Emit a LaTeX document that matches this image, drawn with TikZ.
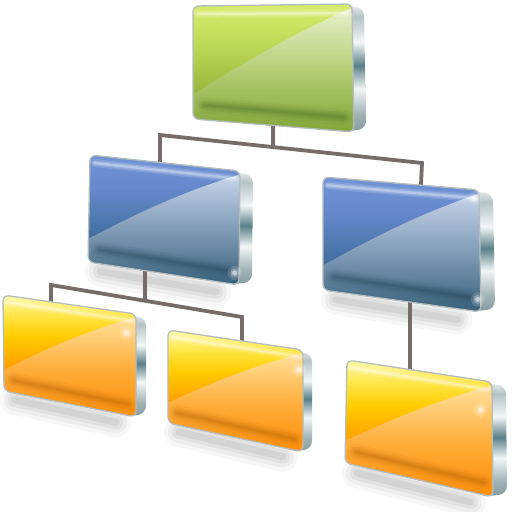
\documentclass[tikz,border=0pt]{standalone}
\usetikzlibrary{calc}
\definecolor{gA}{HTML}{D8EC6E}
\definecolor{gB}{HTML}{C8E05E}
\definecolor{gC}{HTML}{B0CC4C}
\definecolor{gE}{HTML}{8CB03A}
\definecolor{gF}{HTML}{76992C}
\definecolor{greenLT}{HTML}{EEF3D2}
\definecolor{greenLM}{HTML}{B2CC72}
\definecolor{greenLB}{HTML}{7A9E30}
\definecolor{greenD}{HTML}{45661A}
\definecolor{bA}{HTML}{7094D6}
\definecolor{bB}{HTML}{6688CC}
\definecolor{bC}{HTML}{4E78AE}
\definecolor{bE}{HTML}{35628A}
\definecolor{bF}{HTML}{2A5068}
\definecolor{blueLT}{HTML}{CCD8EC}
\definecolor{blueLM}{HTML}{7C98B4}
\definecolor{blueLB}{HTML}{2C566E}
\definecolor{blueD}{HTML}{1A3C50}
\definecolor{oA}{HTML}{FFFCA8}
\definecolor{oB}{HTML}{FFE440}
\definecolor{oC}{HTML}{FFCC00}
\definecolor{oE}{HTML}{FFA000}
\definecolor{oF}{HTML}{FF8A00}
\definecolor{orangeLT}{HTML}{FFE4A0}
\definecolor{orangeLM}{HTML}{FFAC38}
\definecolor{orangeLB}{HTML}{FF8800}
\definecolor{orangeD}{HTML}{A85A00}
\definecolor{mTop}{HTML}{E8EEEE}
\definecolor{mGrey2}{HTML}{B5C3C5}
\definecolor{mLight}{HTML}{F2F6F6}
\definecolor{mDark}{HTML}{5A8088}
\definecolor{mGrey}{HTML}{A3B4B6}
\definecolor{mBot}{HTML}{8399A0}
\definecolor{faceborder}{HTML}{B4BCBC}
\definecolor{linkcol}{HTML}{766D6B}
\pgfdeclareverticalshading{metal}{100bp}{color(0bp)=(mBot); color(25bp)=(mBot); color(32bp)=(mGrey); color(42bp)=(mLight); color(51bp)=(mDark); color(60bp)=(mLight); color(70bp)=(mGrey2); color(75bp)=(mTop); color(100bp)=(mTop)}
\pgfdeclareverticalshading{facegreen}{100bp}{color(0bp)=(gF); color(25bp)=(gF); color(36bp)=(gE); color(52bp)=(gC); color(64bp)=(gB); color(75bp)=(gA); color(100bp)=(gA)}
\pgfdeclareverticalshading{faceblue}{100bp}{color(0bp)=(bF); color(25bp)=(bF); color(36bp)=(bE); color(50bp)=(bC); color(62bp)=(bB); color(75bp)=(bA); color(100bp)=(bA)}
\pgfdeclareverticalshading{faceorange}{100bp}{color(0bp)=(oF); color(25bp)=(oF); color(36bp)=(oF); color(46bp)=(oE); color(58bp)=(oC); color(66bp)=(oB); color(75bp)=(oA); color(100bp)=(oA)}
\tikzset{
  link/.style={draw=linkcol, line width=3.8pt},
  fborder/.style={draw=faceborder, line width=1.3pt, rounded corners=6pt}
}
\newcommand{\defbox}[5]{\coordinate (#1-tl) at #2; \coordinate (#1-tr) at #3; \coordinate (#1-br) at #4; \coordinate (#1-bl) at #5;}
\newcommand{\uvpt}[4]{\coordinate (tmpa) at ($(#2-tl)!#3!(#2-tr)$); \coordinate (tmpb) at ($(#2-bl)!#3!(#2-br)$); \coordinate (#1) at ($(tmpa)!#4!(tmpb)$);}
\newcommand{\boxshadow}[1]{%
  \uvpt{#1-s1}{#1}{0.08}{1.07}
  \uvpt{#1-s2}{#1}{0.85}{1.09}
  \foreach \w/\o in {30/0.03,22/0.04,14/0.05,7/0.06}{\draw[line width=\w pt, black, opacity=\o, line cap=round] (#1-s1) -- (#1-s2);}
}
\newcommand{\drawbox}[3]{%
  \shade[shading=metal, rounded corners=8pt] ($(#1-tr)+(-14,0)$) -- ($(#1-tr)+(#2,4)$) -- ($(#1-br)+(#2,-3)$) -- ($(#1-br)+(-14,0)$) -- cycle;
  \shade[shading=face#3, rounded corners=6pt] (#1-tl) -- (#1-tr) -- (#1-br) -- (#1-bl) -- cycle;
  \begin{scope}
    \clip[rounded corners=6pt] (#1-tl) -- (#1-tr) -- (#1-br) -- (#1-bl) -- cycle;
    \uvpt{#1-c0}{#1}{-0.02}{0.80}
    \uvpt{#1-c1}{#1}{0.22}{0.58}
    \uvpt{#1-c2}{#1}{0.55}{0.28}
    \uvpt{#1-c3}{#1}{1.0}{0.03}
    \shade[top color=#3LT, bottom color=#3LB, middle color=#3LM] (#1-c0) .. controls (#1-c1) and (#1-c2) .. (#1-c3) -- ($(#1-tr)+(10,0)$) -- ($(#1-br)+(10,10)$) -- ($(#1-bl)+(-10,10)$) -- cycle;
    \uvpt{#1-h1}{#1}{0.03}{0.07}
    \uvpt{#1-h2}{#1}{0.97}{0.07}
    \foreach \w/\o in {8/0.12,5/0.18,2.5/0.3}{\draw[white, line width=\w pt, opacity=\o, line cap=round] (#1-h1) -- (#1-h2);}
    \uvpt{#1-d1}{#1}{0.07}{0.87}
    \uvpt{#1-d2}{#1}{0.94}{0.89}
    \foreach \w/\o in {16/0.07,11/0.1,7/0.14,3/0.18}{\draw[#3D, line width=\w pt, opacity=\o, line cap=round] (#1-d1) -- (#1-d2);}
  \end{scope}
  \draw[fborder] (#1-tl) -- (#1-tr) -- (#1-br) -- (#1-bl) -- cycle;
}
\newcommand{\glint}[4]{\uvpt{#1}{#2}{#3}{#4}\foreach \r/\o in {7/0.15,4.5/0.25,2.5/0.5}{\fill[white, opacity=\o] (#1) circle (\r pt);}}
\begin{document}
\begin{tikzpicture}[x=1pt,y=-1pt]
\useasboundingbox (0,0) rectangle (512,512);
\defbox{g}{(193,6)}{(352,4)}{(354,132)}{(193,119)}
\defbox{bl}{(90,155)}{(240,171)}{(239,285)}{(88,262)}
\defbox{br}{(323,177)}{(479,190)}{(481,312)}{(323,290)}
\defbox{ol}{(3,295)}{(136,314)}{(136,417)}{(4,391)}
\defbox{om}{(168,330)}{(303,350)}{(303,452)}{(168,423)}
\defbox{or}{(347,360)}{(492,382)}{(493,497)}{(345,463)}
% shadows
\boxshadow{bl}
\boxshadow{br}
\boxshadow{ol}
\boxshadow{om}
\boxshadow{or}
% connector points
\coordinate (g-bot) at ($(g-bl)!0.497!(g-br)$);
\coordinate (t-L) at (160,135);
\coordinate (t-R) at (422,163);
\coordinate (t-J) at ($(t-L)!0.431!(t-R)$);
\coordinate (bl-top) at ($(bl-tl)!0.467!(bl-tr)$);
\coordinate (br-top) at ($(br-tl)!0.628!(br-tr)$);
\coordinate (bl-bot) at ($(bl-bl)!0.377!(bl-br)$);
\coordinate (m-L) at (51,285);
\coordinate (m-R) at (242,317);
\coordinate (m-J) at ($(m-L)!0.492!(m-R)$);
\coordinate (ol-top) at ($(ol-tl)!0.361!(ol-tr)$);
\coordinate (om-top) at ($(om-tl)!0.548!(om-tr)$);
\coordinate (br-bot) at ($(br-bl)!0.551!(br-br)$);
\coordinate (or-top) at ($(or-tl)!0.434!(or-tr)$);
% connectors
\draw[link] (g-bot) -- (t-J);
\draw[link] (bl-top) -- (t-L) -- (t-R) -- (br-top);
\draw[link] (bl-bot) -- (m-J);
\draw[link] (ol-top) -- (m-L) -- (m-R) -- (om-top);
\draw[link] (br-bot) -- (or-top);
% boxes
\drawbox{g}{12}{green}
\drawbox{bl}{13}{blue}
\drawbox{br}{14}{blue}
\drawbox{ol}{10}{orange}
\drawbox{om}{9}{orange}
\drawbox{or}{14}{orange}
% glints
\glint{gl1}{bl}{0.97}{0.90}
\glint{gl2}{br}{0.97}{0.07}
\glint{gl3}{br}{0.98}{0.90}
\glint{gl4}{ol}{0.93}{0.20}
\glint{gl5}{om}{0.97}{0.20}
\glint{gl6}{or}{0.92}{0.26}
\end{tikzpicture}
\end{document}
